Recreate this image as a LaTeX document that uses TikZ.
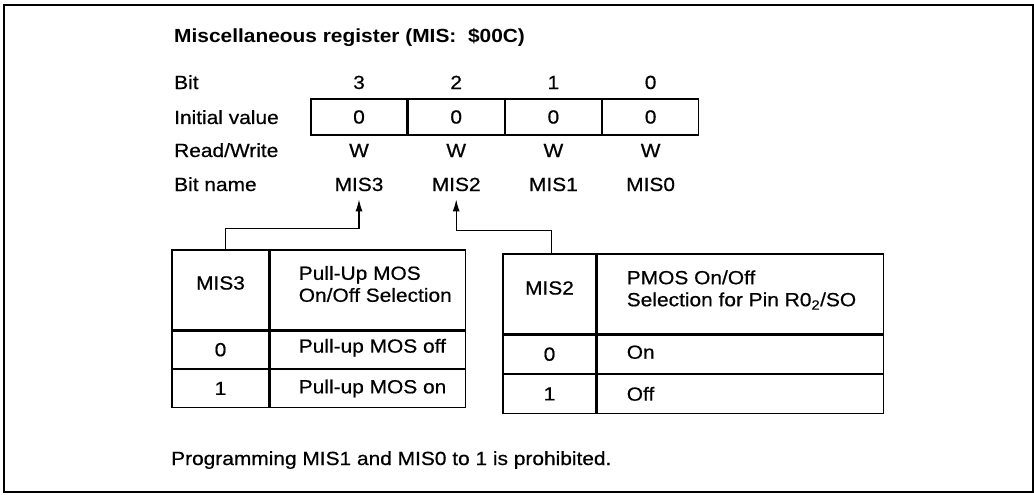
\documentclass[tikz,border=0pt]{standalone}
\usepackage{fontspec}
\setmainfont{Liberation Sans}[FakeStretch=1.1, UprightFeatures={FakeBold=0.6}]
\usepackage{tikz}
\usetikzlibrary{arrows.meta,positioning}

\begin{document}
\begin{tikzpicture}[
    x=1pt, y=-1pt,
    lbl/.style={font=\fontsize{19}{22}\selectfont, inner sep=0pt, align=left},
    regcell/.style={rectangle, draw, line width=1.2pt, minimum width=96pt, minimum height=36pt, inner sep=0pt, font=\fontsize{19}{22}\selectfont},
    tcell/.style={rectangle, draw, line width=1.2pt, inner sep=0pt, font=\fontsize{19}{22}\selectfont},
    arrow/.style={-{Latex[length=12pt, width=7pt]}, line width=1.2pt, shorten >=8pt},
    frame/.style={line width=2.2pt}
]
    \useasboundingbox (0,0) rectangle (1034,495);
    \draw [frame] (4,5) rectangle (1033,492);

    % register layout
    \node [lbl, anchor=base west] (title) at (174,43) {\bfseries Miscellaneous register (MIS:\ \ \$00C)};
    \node [lbl, anchor=base west] (lbit) at (174,89) {Bit};
    \node [lbl, anchor=base west] (linit) at (174,124) {Initial value};
    \node [lbl, anchor=base west] (lrw) at (174,157) {Read/Write};
    \node [lbl, anchor=base west] (lname) at (174,191) {Bit name};

    \node [regcell] (r3) at (359,117) {0};
    \node [regcell, right=0pt of r3] (r2) {0};
    \node [regcell, right=0pt of r2] (r1) {0};
    \node [regcell, right=0pt of r1] (r0) {0};

    \node [lbl, anchor=base] (n3) at (r3.center |- 0,89) {3};
    \node [lbl, anchor=base] (n2) at (r2.center |- 0,89) {2};
    \node [lbl, anchor=base] (n1) at (r1.center |- 0,89) {1};
    \node [lbl, anchor=base] (n0) at (r0.center |- 0,89) {0};

    \node [lbl, anchor=base] (w3) at (r3.center |- 0,157) {W};
    \node [lbl, anchor=base] (w2) at (r2.center |- 0,157) {W};
    \node [lbl, anchor=base] (w1) at (r1.center |- 0,157) {W};
    \node [lbl, anchor=base] (w0) at (r0.center |- 0,157) {W};

    \node [lbl, anchor=base] (m3) at (r3.center |- 0,191) {MIS3};
    \node [lbl, anchor=base] (m2) at (r2.center |- 0,191) {MIS2};
    \node [lbl, anchor=base] (m1) at (r1.center |- 0,191) {MIS1};
    \node [lbl, anchor=base] (m0) at (r0.center |- 0,191) {MIS0};

    % MIS3 table
    \node [tcell, minimum width=97pt, minimum height=80pt] (t3a) at (220.5,290) {};
    \node [tcell, minimum width=195pt, minimum height=80pt, right=0pt of t3a] (t3b) {};
    \node [tcell, minimum width=97pt, minimum height=37pt, below=0pt of t3a] (t3c) {0};
    \node [tcell, minimum width=195pt, minimum height=37pt, right=0pt of t3c] (t3d) {};
    \node [tcell, minimum width=97pt, minimum height=38pt, below=0pt of t3c] (t3e) {1};
    \node [tcell, minimum width=195pt, minimum height=38pt, right=0pt of t3e] (t3f) {};
    \node [lbl] (t3at) at ([yshift=7pt]t3a.center) {MIS3};
    \node [lbl, anchor=west] (t3bt) at ([xshift=29pt, yshift=6pt]t3b.west) {Pull-Up MOS\\On/Off Selection};
    \node [lbl, anchor=west] (t3dt) at ([xshift=29pt, yshift=2pt]t3d.west) {Pull-up MOS off};
    \node [lbl, anchor=west] (t3ft) at ([xshift=29pt]t3f.west) {Pull-up MOS on};

    % MIS2 table
    \node [tcell, minimum width=93pt, minimum height=80pt] (t2a) at (549.5,294) {};
    \node [tcell, minimum width=286pt, minimum height=80pt, right=0pt of t2a] (t2b) {};
    \node [tcell, minimum width=93pt, minimum height=38pt, below=0pt of t2a] (t2c) {0};
    \node [tcell, minimum width=286pt, minimum height=38pt, right=0pt of t2c] (t2d) {};
    \node [tcell, minimum width=93pt, minimum height=39pt, below=0pt of t2c] (t2e) {1};
    \node [tcell, minimum width=286pt, minimum height=39pt, right=0pt of t2e] (t2f) {};
    \node [lbl] (t2at) at ([yshift=6pt]t2a.center) {MIS2};
    \node [lbl, anchor=west] (t2bt) at ([xshift=30pt, yshift=4pt]t2b.west) {PMOS On/Off\\Selection for Pin R0\textsubscript{2}/SO};
    \node [lbl, anchor=west] (t2dt) at ([xshift=30pt, yshift=2pt]t2d.west) {On};
    \node [lbl, anchor=west] (t2ft) at ([xshift=30pt]t2f.west) {Off};

    \draw [arrow] ([xshift=5pt]t3a.north) -- ++(0,-21) -| (m3.south);
    \draw [arrow] ([xshift=2pt]t2a.north) -- ++(0,-23) -| (m2.south);

    \node [lbl, anchor=base west] (note) at (171,465) {Programming MIS1 and MIS0 to 1 is prohibited.};
\end{tikzpicture}
\end{document}
